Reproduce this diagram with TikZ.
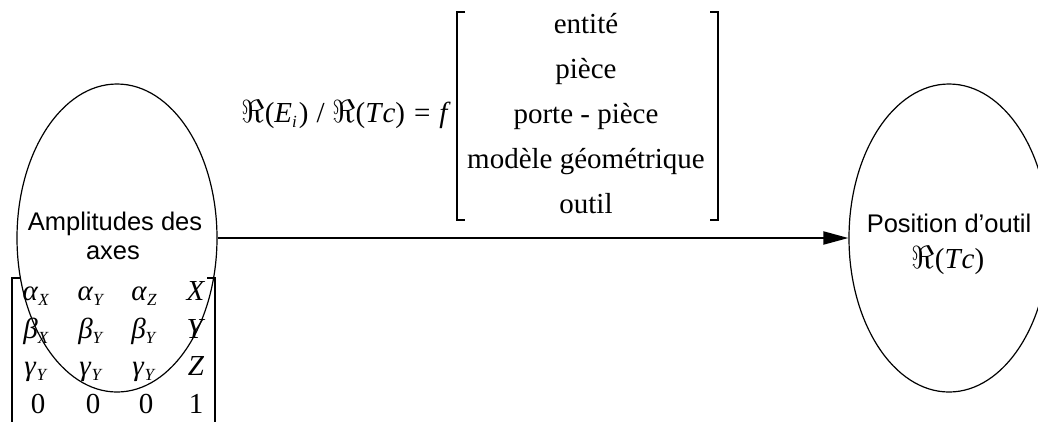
\RequirePackage{fix-cm}
\documentclass[tikz,border=0pt]{standalone}
\usepackage{fontspec}
\setmainfont{Liberation Serif}
\newfontfamily\arial{Liberation Sans}
\usetikzlibrary{shapes.geometric,arrows.meta}
\newcommand{\lowsub}[1]{\raisebox{-5pt}{\fontsize{17}{18}\selectfont\textit{#1}}}
\newcommand{\mxe}[2]{\textit{#1}\lowsub{#2}}
\newcommand{\bigRe}{{\fontsize{32}{34}\selectfont$\Re$}}
\tikzset{
  bubble/.style={draw, ellipse, line width=1.2pt, minimum width=200pt, minimum height=308pt, inner sep=0pt},
  sans/.style={font=\arial\fontsize{25.5}{29}\selectfont, anchor=base, inner sep=0pt},
  serif/.style={font=\fontsize{29}{34}\selectfont, anchor=base, inner sep=0pt},
  mat/.style={font=\fontsize{29}{32}\selectfont, anchor=base, inner sep=0pt},
  brk/.style={line width=1.2pt},
  flow/.style={line width=2pt, -{Triangle[length=25pt,width=13pt]}}
}
\begin{document}
\begin{tikzpicture}[x=1pt,y=-1pt]
\useasboundingbox (0,0) rectangle (1038,421);
% ellipses
\node[bubble] (L) at (117,238) {};
\node[bubble] (R) at (949,238) {};
\draw[flow] (L.east) -- (R.west);
% left labels
\node[sans] (l1) at (115,230) {Amplitudes des};
\node[sans] (l2) at (113,259) {axes};
% right labels
\node[sans] (r1) at (949,232) {Position d’outil};
\node[serif] (r2) at (948,268) {\bigRe(\textit{T\kern1pt c})};
% formula
\node[serif, anchor=base east] (fm) at (451,122) {\bigRe(\textit{E}\lowsub{i}\kern2pt)\hspace{8pt}/\hspace{8pt}\bigRe(\textit{T\kern1pt c})\hspace{9pt}=\hspace{9pt}\textit{f}};
% top bracket
\draw[brk] (465,12) -- (457,12) -- (457,220) -- (465,220);
\draw[brk] (710,12) -- (718,12) -- (718,220) -- (710,220);
\node[serif] (t1) at (586,33) {entité};
\node[serif] (t2) at (586,78) {pièce};
\node[serif] (t3) at (586,123) {porte - pièce};
\node[serif] (t4) at (586,168) {modèle géométrique};
\node[serif] (t5) at (586,213) {outil};
% bottom matrix
\draw[brk] (20,278) -- (12,278) -- (12,425);
\draw[brk] (207,278) -- (215,278) -- (215,425);
\node[mat] (m11) at (36,300) {\mxe{α}{X}};
\node[mat] (m12) at (91,300) {\mxe{α}{Y}};
\node[mat] (m13) at (144,300) {\mxe{α}{Z}};
\node[mat] (m14) at (196,300) {\textit{X}};
\node[mat] (m21) at (36,338) {\mxe{β}{X}};
\node[mat] (m22) at (91,338) {\mxe{β}{Y}};
\node[mat] (m23) at (144,338) {\mxe{β}{Y}};
\node[mat] (m24) at (196,338) {\textit{Y}};
\node[mat] (m31) at (36,375) {\mxe{γ}{Y}};
\node[mat] (m32) at (91,375) {\mxe{γ}{Y}};
\node[mat] (m33) at (144,375) {\mxe{γ}{Y}};
\node[mat] (m34) at (196,375) {\textit{Z}};
\node[mat] (m41) at (38,413) {0};
\node[mat] (m42) at (93,413) {0};
\node[mat] (m43) at (146,413) {0};
\node[mat] (m44) at (196,413) {1};
\end{tikzpicture}
\end{document}
